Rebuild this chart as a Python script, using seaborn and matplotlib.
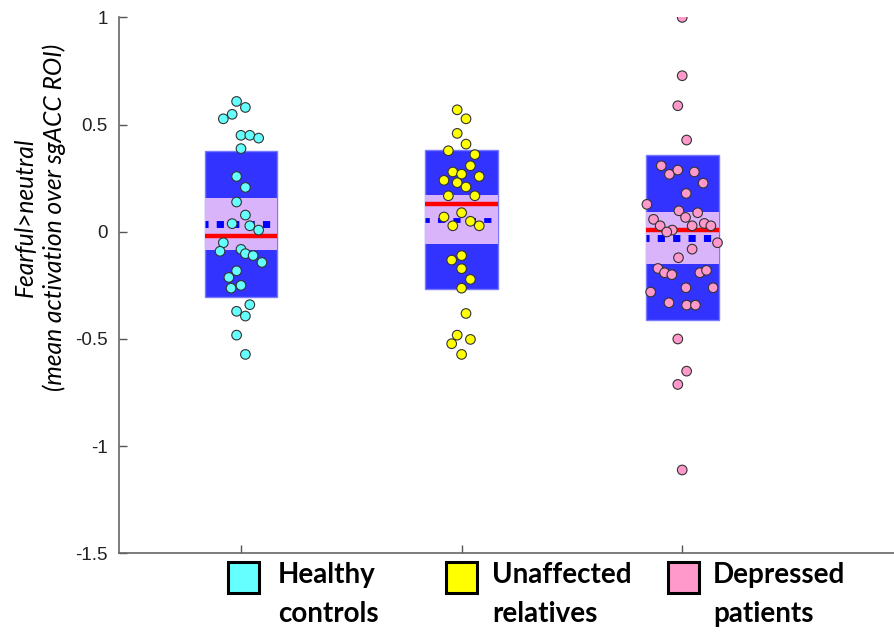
import numpy as np
import pandas as pd
import matplotlib
matplotlib.use("Agg")
import matplotlib.pyplot as plt
from matplotlib.patches import Rectangle
import seaborn as sns

# --- data ---
groups = ["Healthy\ncontrols", "Unaffected\nrelatives", "Depressed\npatients"]
group_colors = ["#66ffff", "#ffff00", "#ff99cc"]

healthy = [0.608, 0.580, 0.548, 0.527, 0.450, 0.450, 0.437, 0.388, 0.258, 0.207,
           0.139, 0.078, 0.038, 0.028, 0.008, -0.051, -0.091, -0.082, -0.102, -0.111,
           -0.143, -0.182, -0.213, -0.263, -0.250, -0.340, -0.371, -0.393, -0.482, -0.572]
healthy_jit = [-0.02, 0.02, -0.04, -0.08, 0.0, 0.04, 0.08, 0.0, -0.02, 0.02,
               -0.02, 0.02, -0.04, 0.04, 0.08, -0.08, -0.095, 0.0, 0.02, 0.055,
               0.095, -0.02, -0.055, -0.045, 0.0, 0.04, -0.02, 0.02, -0.02, 0.02]

relatives = [0.569, 0.527, 0.459, 0.409, 0.378, 0.360, 0.308, 0.279, 0.269, 0.258,
             0.240, 0.229, 0.209, 0.168, 0.168, 0.089, 0.069, 0.049, 0.028, 0.028,
             -0.111, -0.132, -0.172, -0.222, -0.263, -0.381, -0.482, -0.502, -0.522, -0.572]
relatives_jit = [-0.02, 0.02, -0.02, 0.02, -0.06, 0.06, 0.04, -0.04, 0.0, 0.08,
                 -0.08, -0.02, 0.02, -0.06, 0.06, 0.0, -0.08, 0.04, -0.04, 0.08,
                 0.0, -0.045, 0.0, 0.04, 0.0, 0.02, -0.02, 0.04, -0.045, 0.0]

patients = [1.0, 0.728, 0.588, 0.428, 0.308, 0.268, 0.288, 0.279, 0.227, 0.179,
            0.128, 0.098, 0.089, 0.067, 0.058, 0.039, 0.028, 0.028, 0.028, 0.008,
            -0.001, -0.051, -0.081, -0.121, -0.171, -0.191, -0.200, -0.191, -0.180, -0.261,
            -0.261, -0.281, -0.331, -0.342, -0.342, -0.500, -0.650, -0.712, -1.111]
patients_jit = [0.0, 0.0, -0.02, 0.02, -0.095, -0.058, -0.02, 0.055, 0.095, 0.018,
                -0.16, -0.015, 0.07, 0.015, -0.13, 0.10, 0.13, -0.10, 0.045, -0.045,
                -0.07, 0.16, 0.045, -0.017, -0.11, -0.08, -0.047, 0.08, 0.11, 0.017,
                0.14, -0.143, -0.06, 0.02, 0.06, -0.02, 0.02, -0.02, 0.0]

# summary bands: outer (dark) range, inner (light) range, red line, blue dotted line
outer_lo = [-0.305, -0.269, -0.413]
outer_hi = [0.376, 0.383, 0.356]
inner_lo = [-0.083, -0.059, -0.149]
inner_hi = [0.159, 0.173, 0.092]
red_line = [-0.021, 0.128, 0.010]
blue_line = [0.038, 0.053, -0.029]

values = [healthy, relatives, patients]
jitters = [healthy_jit, relatives_jit, patients_jit]

rows = []
for i, (vals, jit) in enumerate(zip(values, jitters)):
    for v, j in zip(vals, jit):
        rows.append({"group": groups[i], "x": i + 1 + j, "y": v})
df = pd.DataFrame(rows)

sns.set_style("white")
plt.rcParams["font.family"] = ["Liberation Sans", "DejaVu Sans"]

fig = plt.figure(figsize=(8.94, 6.33), dpi=100)
ax = fig.add_axes([0.1331, 0.1258, 0.8669, 0.8467])

pos = np.arange(1, 4)
box_w = 0.33
ax.bar(pos, np.array(outer_hi) - np.array(outer_lo), bottom=outer_lo, width=box_w,
       color="#3333ff", edgecolor="#7777ff", linewidth=1, zorder=1)
ax.bar(pos, np.array(inner_hi) - np.array(inner_lo), bottom=inner_lo, width=box_w,
       color="#d9b4fa", edgecolor="#d9b4fa", linewidth=0, zorder=2)
ax.hlines(red_line, pos - box_w / 2, pos + box_w / 2, color="#ff0000", lw=3.2, zorder=3)
for i, lw in enumerate([5, 3.5, 5]):
    ax.hlines(blue_line[i], pos[i] - box_w / 2, pos[i] + box_w / 2, color="#0000ff",
              lw=lw, linestyles=(0.6, (7.2 / (lw * 1.389), 8.2 / (lw * 1.389))), zorder=3)

sns.scatterplot(data=df, x="x", y="y", hue="group", palette=group_colors,
                s=48, edgecolor="#333333", linewidth=0.8, legend=False, ax=ax, zorder=4)

ax.set_xlim(0.447, 3.96)
ax.set_ylim(-1.5, 1)
ax.set_xticks(pos)
ax.set_xticklabels([])
ax.set_yticks([1, 0.5, 0, -0.5, -1, -1.5])
ax.set_yticklabels(["1", "0.5", "0", "-0.5", "-1", "-1.5"])
ax.tick_params(axis="both", direction="in", length=6, width=1, color="#555555",
               labelsize=13.5, labelcolor="#222222", left=True, bottom=True)
ax.tick_params(axis="y", pad=8)
ax.set_xlabel("")
for s in ["top", "right"]:
    ax.spines[s].set_visible(False)
for s in ["left", "bottom"]:
    ax.spines[s].set_color("#666666")
    ax.spines[s].set_linewidth(1.2)

ax.set_ylabel("Fearful>neutral\n(mean activation over sgACC ROI)", fontsize=17.7,
              style="italic", family=["Lato", "DejaVu Sans"], linespacing=1.3,
              color="black")
ax.yaxis.set_label_coords(-0.068, 0.627)

# legend underneath, square swatch next to each two-line label
sq_left = [228, 446, 668]
txt_left = [278, 492, 713]
W, H = 894, 633
for i in range(3):
    fig.patches.append(Rectangle((sq_left[i] / W, 1 - 593 / H), 31 / W, 31 / H,
                                 transform=fig.transFigure, facecolor=group_colors[i],
                                 edgecolor="black", linewidth=2.2))
    fig.text(txt_left[i] / W, 1 - 562 / H, groups[i], ha="left", va="top",
             fontsize=20, fontweight="bold", family=["Lato", "DejaVu Sans"],
             linespacing=1.6, color="black")

fig.savefig("out.png", dpi=100)
